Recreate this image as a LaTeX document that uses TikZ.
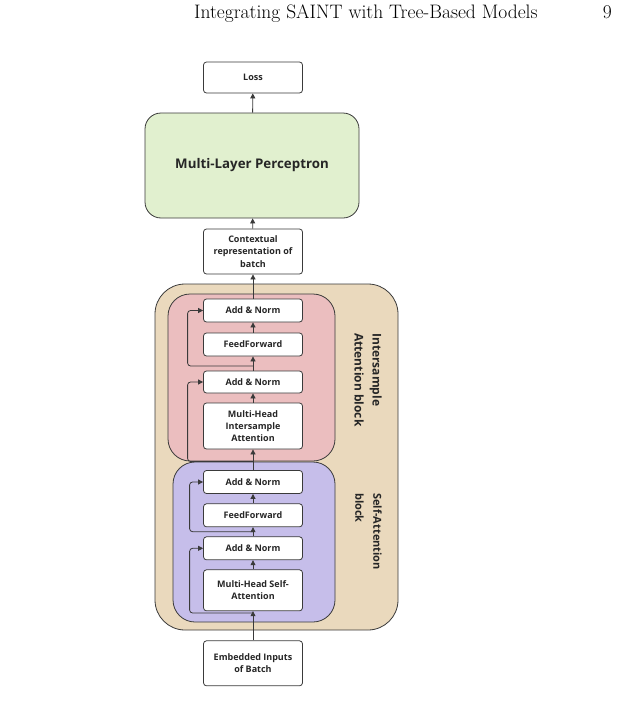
\documentclass[tikz,border=0pt]{standalone}
\usepackage{fontspec}
\newfontfamily\diagfont{Open Sans}
\usetikzlibrary{arrows.meta}

\definecolor{linegray}{HTML}{3A3A3A}
\definecolor{textgray}{HTML}{262626}
\definecolor{mlpgreen}{HTML}{E1F0CF}
\definecolor{outertan}{HTML}{EAD9BD}
\definecolor{interpink}{HTML}{EBBEBF}
\definecolor{selfblue}{HTML}{C6BEEA}

\tikzset{
  blk/.style={draw=linegray, fill=white, rounded corners=3pt, line width=0.8pt,
    minimum width=99pt, inner sep=0pt, align=center, text=textgray,
    font=\diagfont\bfseries\fontsize{9}{12.3}\selectfont},
  container/.style={draw=linegray, line width=0.8pt, inner sep=0pt},
  flow/.style={draw=linegray, line width=0.8pt, -{Triangle[length=5pt,width=5pt]}},
  loop/.style={flow, rounded corners=3pt},
  blocklabel/.style={rotate=-90, anchor=north west, inner sep=0pt, align=left,
    text=textgray, font=\diagfont\bfseries\fontsize{11}{18}\selectfont},
}

\begin{document}
\begin{tikzpicture}[x=1pt,y=-1pt]
  \useasboundingbox (0,0) rectangle (621,720);

  % running head
  \node[anchor=base west, inner sep=0pt, font=\fontsize{19.5}{22}\selectfont] (head) at (194,19) {Integrating SAINT with Tree-Based Models};
  \node[anchor=base east, inner sep=0pt, font=\fontsize{19.5}{22}\selectfont] (page) at (612,19) {9};

  % containers
  \node[container, fill=outertan, rounded corners=30pt, minimum width=243pt, minimum height=346pt] (outer) at (276.5,457) {};
  \node[container, fill=interpink, rounded corners=22pt, minimum width=167pt, minimum height=167pt] (inter) at (251.5,377.5) {};
  \node[container, fill=selfblue, rounded corners=22pt, minimum width=162pt, minimum height=160pt] (self) at (254,542) {};
  \node[container, fill=mlpgreen, rounded corners=16pt, minimum width=214pt, minimum height=105pt,
    text=textgray, font=\diagfont\bfseries\fontsize{13.3}{16}\selectfont] (mlp) at (252,165.5) {Multi-Layer Perceptron};

  % boxes
  \node[blk, minimum height=31pt] (loss) at (253,77.5) {Loss};
  \node[blk, minimum height=45pt] (ctx) at (253,251.5) {Contextual\\representation of\\batch};

  \node[blk, minimum height=23pt] (ia an2) at (253,310.5) {Add \& Norm};
  \node[blk, minimum height=23pt] (ia ff) at (253,344.5) {FeedForward};
  \node[blk, minimum height=22pt] (ia an1) at (253,382) {Add \& Norm};
  \node[blk, minimum height=46pt] (ia mh) at (253,426) {Multi-Head\\Intersample\\Attention};

  \node[blk, minimum height=23pt] (sa an2) at (253,482) {Add \& Norm};
  \node[blk, minimum height=23pt] (sa ff) at (253,515.3) {FeedForward};
  \node[blk, minimum height=23pt] (sa an1) at (253,548.3) {Add \& Norm};
  \node[blk, minimum height=41pt] (sa mh) at (253,590.3) {Multi-Head Self-\\Attention};

  \node[blk, minimum height=45pt] (emb) at (253,663.3) {Embedded Inputs\\of Batch};

  % block labels
  \node[blocklabel, font=\diagfont\bfseries\fontsize{12}{18}\selectfont] (ia label) at (382,333) {Intersample\\Attention block};
  \node[blocklabel] (sa label) at (382,493) {Self-Attention\\block};

  % main flow
  \draw[flow] (emb) -- (sa mh);
  \draw[flow] (sa mh) -- (sa an1);
  \draw[flow] (sa an1) -- (sa ff);
  \draw[flow] (sa ff) -- (sa an2);
  \draw[flow] (sa an2) -- (ia mh);
  \draw[flow] (ia mh) -- (ia an1);
  \draw[flow] (ia an1) -- (ia ff);
  \draw[flow] (ia ff) -- (ia an2);
  \draw[flow] (ia an2) -- (ctx);
  \draw[flow] (ctx) -- (mlp);
  \draw[flow] (mlp) -- (loss);

  % residual connections
  \coordinate (sa in) at (253,613);
  \coordinate (sa mid) at (253,531.7);
  \coordinate (ia in) at (253,461.5);
  \coordinate (ia mid) at (253,366);
  \draw[loop] (sa in) -| ([xshift=-13.5pt]sa an1.west) -- (sa an1.west);
  \draw[loop] (sa mid) -| ([xshift=-13.5pt]sa an2.west) -- (sa an2.west);
  \draw[loop] (ia in) -| ([xshift=-15.5pt]ia an1.west) -- (ia an1.west);
  \draw[loop] (ia mid) -| ([xshift=-15.5pt]ia an2.west) -- (ia an2.west);
\end{tikzpicture}
\end{document}
